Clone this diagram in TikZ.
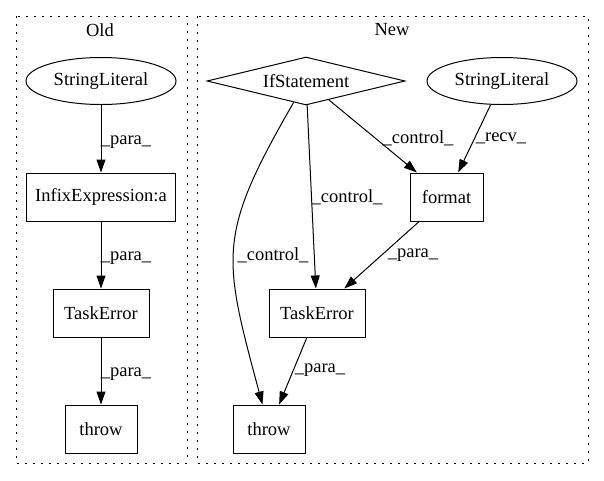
\documentclass[tikz,border=0pt]{standalone}
\usepackage{fontspec}
\setmainfont{Liberation Serif}
\usetikzlibrary{shapes.geometric,arrows.meta}
\begin{document}
\begin{tikzpicture}[x=1pt,y=1pt,
  every node/.style={font=\fontsize{18.5}{21}\selectfont},
  box/.style={draw,line width=1pt,rectangle,minimum height=48pt,inner sep=0pt},
  ell/.style={draw,line width=1pt,ellipse,minimum width=150pt,minimum height=47pt,inner sep=0pt},
  dia/.style={draw,line width=1pt,diamond,aspect=4.125,minimum width=198pt,minimum height=48pt,inner sep=0pt},
  edge/.style={draw,line width=1pt,-{Triangle[length=13pt,width=9pt]}},
  lab/.style={inner sep=0pt},
  cluster/.style={draw,line width=1pt,dash pattern=on 2pt off 6pt}]
\useasboundingbox (0,0) rectangle (604,-480);
% clusters
\draw[cluster] (16,-16) rectangle (187,-463);
\draw[cluster] (197,-16) rectangle (588,-463);
\node (oldlab) at (100,-30) {Old};
\node (newlab) at (392,-30) {New};
% Old nodes
\node[ell] (sl1) at (101,-81) {StringLiteral};
\node[box,minimum width=149pt] (inf) at (101,-197) {InfixExpression:a};
\node[box,minimum width=96pt] (te1) at (101,-313) {TaskError};
\node[box,minimum width=72pt] (th1) at (101,-429) {throw};
% New nodes
\node[dia] (if) at (306,-81) {IfStatement};
\node[ell] (sl2) at (502,-81) {StringLiteral};
\node[box,minimum width=73pt] (fmt) at (446.5,-197) {format};
\node[box,minimum width=96pt] (te2) at (317,-313) {TaskError};
\node[box,minimum width=72pt] (th2) at (269,-429) {throw};
% Old edges
\draw[edge] (sl1) -- (inf);
\draw[edge] (inf) -- (te1);
\draw[edge] (te1) -- (th1);
\node[lab] (l1) at (126,-142) {\_para\_};
\node[lab] (l2) at (126,-258) {\_para\_};
\node[lab] (l3) at (126,-374) {\_para\_};
% New edges
\draw[edge] (if) to[out=-120,in=105,looseness=1.3] (th2);
\draw[edge] (if) -- (te2);
\draw[edge] (if) -- (fmt);
\draw[edge] (sl2) -- (fmt);
\draw[edge] (fmt) -- (te2);
\draw[edge] (te2) -- (th2);
\node[lab] (l4) at (273,-255) {\_control\_};
\node[lab] (l5) at (347,-197) {\_control\_};
\node[lab] (l6) at (418,-138) {\_control\_};
\node[lab] (l7) at (501,-138) {\_recv\_};
\node[lab] (l8) at (413,-255) {\_para\_};
\node[lab] (l9) at (320,-370) {\_para\_};
\end{tikzpicture}
\end{document}
